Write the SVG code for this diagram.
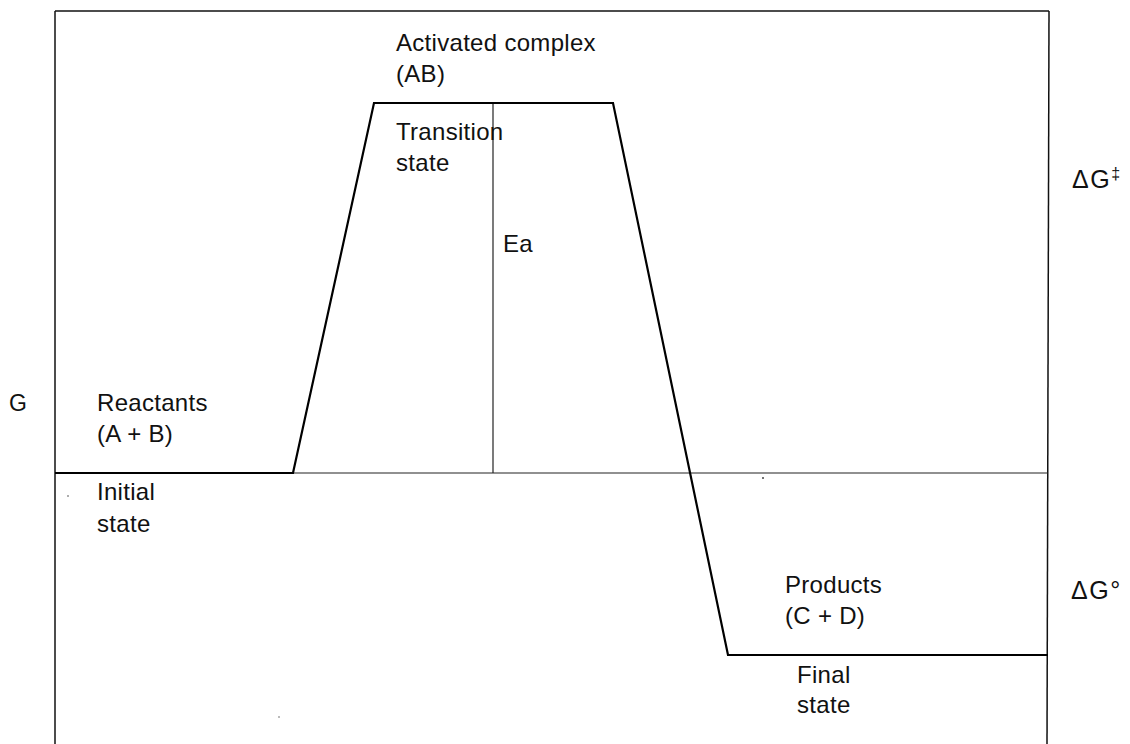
<svg xmlns="http://www.w3.org/2000/svg" width="1130" height="744" viewBox="0 0 1130 744">
  <style>
    .lbl { font-family: "Liberation Sans", Arial, sans-serif; font-size: 24px; letter-spacing: 0.3px; fill: #111; }
    .axis { font-family: "Liberation Sans", Arial, sans-serif; font-size: 23px; fill: #111; }
    .dg { font-family: "Liberation Sans", Arial, sans-serif; font-size: 25px; letter-spacing: 1.5px; fill: #111; }
    .frame { stroke: #111; stroke-width: 1.5; fill: none; }
    .thin { stroke: #222; stroke-width: 1.2; fill: none; }
    .profile { stroke: #000; stroke-width: 2.2; fill: none; stroke-linejoin: miter; }
  </style>
  <rect width="1130" height="744" fill="#fff"/>

  <g id="frame">
    <line class="frame" x1="55" y1="11" x2="1049" y2="11"/>
    <line class="frame" x1="55" y1="11" x2="55" y2="744"/>
    <line class="frame" x1="1049" y1="11" x2="1047" y2="744"/>
  </g>

  <g id="connectors">
    <line class="thin" x1="55" y1="473" x2="1048" y2="473"/>
    <line class="thin" x1="493" y1="103" x2="493" y2="473"/>
    <polyline class="profile" points="55,473 293,473 374,103 613,103 728,655 1048,655"/>
  </g>

  <g id="activated-complex">
    <text class="lbl" x="396" y="51">Activated complex</text>
    <text class="lbl" x="396" y="82">(AB)</text>
  </g>
  <g id="transition-state">
    <text class="lbl" x="396" y="140">Transition</text>
    <text class="lbl" x="396" y="171">state</text>
  </g>
  <g id="ea">
    <text class="lbl" x="503" y="252">Ea</text>
  </g>
  <g id="reactants">
    <text class="lbl" x="97" y="411">Reactants</text>
    <text class="lbl" x="97" y="442">(A + B)</text>
  </g>
  <g id="initial-state">
    <text class="lbl" x="97" y="500">Initial</text>
    <text class="lbl" x="97" y="532">state</text>
  </g>
  <g id="products">
    <text class="lbl" x="785" y="593">Products</text>
    <text class="lbl" x="785" y="624">(C + D)</text>
  </g>
  <g id="final-state">
    <text class="lbl" x="797" y="683">Final</text>
    <text class="lbl" x="797" y="713">state</text>
  </g>
  <g id="axis-labels">
    <text class="axis" x="9" y="411">G</text>
    <text class="dg" x="1072" y="188">ΔG<tspan font-size="16" dy="-9">‡</tspan></text>
    <text class="dg" x="1071" y="599">ΔG°</text>
  </g>
  <g id="specks" fill="#444">
    <circle cx="68" cy="496" r="0.8"/>
    <circle cx="763" cy="478" r="1"/>
    <circle cx="279" cy="717" r="0.7"/>
  </g>
</svg>
